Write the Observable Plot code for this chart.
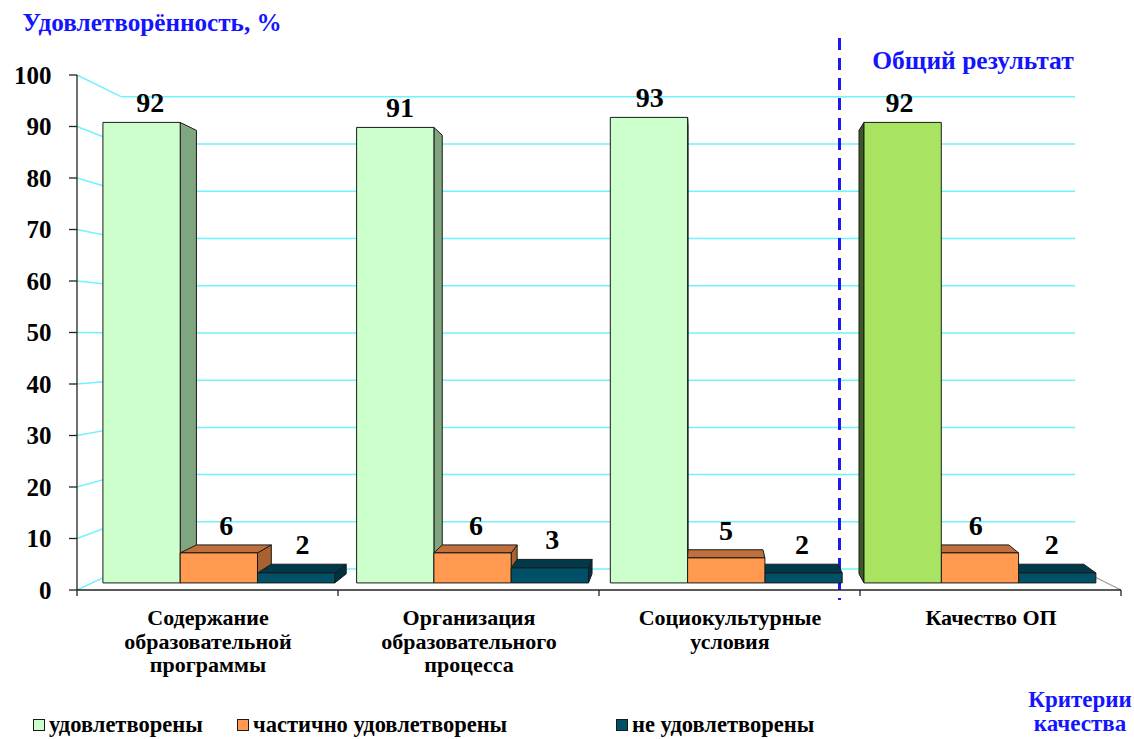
<!DOCTYPE html>
<html><head><meta charset="utf-8">
<script src="https://cdn.jsdelivr.net/npm/d3@7"></script>
<script src="https://cdn.jsdelivr.net/npm/@observablehq/plot@0.6"></script>
<style>
body{margin:0;background:#fff;font-family:"Liberation Serif","DejaVu Serif","Times New Roman",serif;}
#wrap{position:relative;width:1134px;height:739px;overflow:hidden;background:#fff}
.item{position:absolute;top:713px;font-weight:bold;font-size:22.5px;line-height:24px;white-space:nowrap;color:#000}
.sw{position:absolute;top:719px;width:10px;height:10px;border:1.5px solid #1a1a1a}
#crit{position:absolute;left:1024px;top:688px;width:112px;text-align:center;color:#1414ff;font-weight:bold;font-size:23px;line-height:24px}
</style></head><body><div id="wrap"><div id="chart"></div><div id="legend"></div><div id="crit">Критерии<br>качества</div></div>
<script>
const categories = ["Содержание образовательной программы", "Организация образовательного процесса", "Социокультурные условия", "Качество ОП"];
const categoryLines = [["Содержание", "образовательной", "программы"], ["Организация", "образовательного", "процесса"], ["Социокультурные", "условия"], ["Качество ОП"]];
const seriesNames = ["удовлетворены", "частично удовлетворены", "не удовлетворены"];
const satisfied = [92, 91, 93, 92];
const partly = [6, 6, 5, 6];
const notSatisfied = [2, 3, 2, 2];
const yTicks = [0, 10, 20, 30, 40, 50, 60, 70, 80, 90, 100];
const titleText = "Удовлетворённость, %";
const totalText = "Общий результат";

const seriesValues = [satisfied, partly, notSatisfied];
const frontColors = ["#ccffcc", "#ff9a50", "#005068"];
const topColors = ["#a6cda6", "#c0703a", "#00394a"];
const sideColors = ["#80a680", "#a8622f", "#003040"];
const totalFront = "#a8e462", totalTop = "#7fae45", totalSide = "#3c5a22";
const FONT = "'Liberation Serif','DejaVu Serif','Times New Roman',serif";

function scene(index, scales, values, dims) {
  const x = scales.x, y = scales.y;
  const bw = x.bandwidth();
  const [x0, x1] = x.range();
  const yb = y(0);
  const VX = (x0 + x1) / 2 + 14, VY = y(49);
  const KW = 0.917, KF = 0.972;
  const DVX = x0 + (x1 - x0) * 0.6, CX = 0.031, CY = 0.037;
  const wall = (px, py) => [VX + (px - VX) * KW, VY + (py - VY) * KW];
  const front = (px, py) => [VX + (px - VX) * KF, VY + (py - VY) * KF];
  const back = (p) => [p[0] + (DVX - p[0]) * CX, p[1] + (VY - p[1]) * CY];
  const g = d3.create("svg:g");
  const line = (a, b, stroke, w = 1.5) => g.append("line").attr("x1", a[0]).attr("y1", a[1]).attr("x2", b[0]).attr("y2", b[1]).attr("stroke", stroke).attr("stroke-width", w);
  const poly = (pts, fill) => g.append("path").attr("d", "M" + pts.map(p => p.join(",")).join("L") + "Z")
    .attr("fill", fill).attr("stroke", "#1a1a1a").attr("stroke-width", 1).attr("stroke-linejoin", "round");
  // walls and gridlines
  for (const v of yTicks) {
    const a = [x0, y(v)], b = wall(x0, y(v)), c = wall(x1 - 4, y(v));
    line(a, b, "#72f2ff");
    line(b, c, "#72f2ff");
  }
  line([x1, yb], wall(x1, yb), "#9a9a9a", 1.2);
  // dashed separator
  const sx = wall(x(categories[3]), yb)[0];
  g.append("line").attr("x1", sx).attr("x2", sx).attr("y1", y(100) - 37).attr("y2", yb + 10)
    .attr("stroke", "#1a1aee").attr("stroke-width", 3).attr("stroke-dasharray", "12,8");
  // bars
  const pad = bw * 0.043, barW = (bw - 2 * pad) / 3;
  const bars = [];
  categories.forEach((c, i) => {
    seriesValues.forEach((vals, j) => {
      const ax0 = x(c) + pad + j * barW, ax1 = ax0 + barW;
      const isTotal = i === 3 && j === 0;
      bars.push({
        v: vals[i], ax0, ax1,
        f: isTotal ? totalFront : frontColors[j],
        t: isTotal ? totalTop : topColors[j],
        s: isTotal ? totalSide : sideColors[j]
      });
    });
  });
  for (const b of bars) {
    const [fx0, fyb] = front(b.ax0, yb);
    const [fx1, fyt] = front(b.ax1, y(b.v));
    b.fx0 = fx0; b.fx1 = fx1; b.fyb = fyb; b.fyt = fyt;
    b.dist = Math.abs((fx0 + fx1) / 2 - DVX);
  }
  bars.sort((a, b) => b.dist - a.dist);
  for (const b of bars) {
    const {fx0, fx1, fyb, fyt} = b;
    if (fx1 < DVX) poly([[fx1, fyb], [fx1, fyt], back([fx1, fyt]), back([fx1, fyb])], b.s);
    if (fx0 > DVX) poly([[fx0, fyb], [fx0, fyt], back([fx0, fyt]), back([fx0, fyb])], b.s);
    if (fyt > VY) poly([[fx0, fyt], [fx1, fyt], back([fx1, fyt]), back([fx0, fyt])], b.t);
    poly([[fx0, fyb], [fx1, fyb], [fx1, fyt], [fx0, fyt]], b.f);
  }
  for (const b of bars) {
    const bt = back([(b.fx0 + b.fx1) / 2, b.fyt]);
    const cx = ((b.fx0 + b.fx1) / 2 + bt[0]) / 2;
    const topY = Math.min(b.fyt, bt[1]);
    g.append("text").attr("x", cx).attr("y", topY - 20).attr("dy", "0.35em")
      .attr("text-anchor", "middle").attr("font-size", 28).attr("font-weight", "bold")
      .attr("font-family", FONT).attr("fill", "#000").text(b.v);
  }
  // axes lines
  line([x0, yb], [x0, y(100)], "#222", 1.3);
  for (const v of yTicks) line([x0 - 8, y(v)], [x0, y(v)], "#222", 1.3);
  line([x0, yb], [x1, yb], "#222", 1.3);
  for (const c of categories) line([x(c), yb], [x(c), yb + 6], "#222", 1.3);
  line([x1, yb], [x1, yb + 6], "#222", 1.3);
  return g.node();
}

const chart = Plot.plot({
  width: 1134, height: 700,
  marginTop: 75, marginRight: 13, marginBottom: 110, marginLeft: 77,
  x: {type: "band", domain: categories, padding: 0, axis: null},
  y: {domain: [0, 100], axis: null},
  style: {fontFamily: FONT, fontWeight: "bold", background: "white", overflow: "visible"},
  marks: [
    scene,
    Plot.text(yTicks, {y: d => d, text: d => String(d), frameAnchor: "left", textAnchor: "end", dx: -26, fontSize: 25, fontWeight: "bold", fill: "#000"}),
    Plot.text(categories, {x: d => d, text: (d, i) => categoryLines[i].join("\n"), frameAnchor: "bottom", lineAnchor: "top", dy: 18, fontSize: 22, lineHeight: 1.07, fontWeight: "bold", fill: "#000"}),
    Plot.text([titleText], {frameAnchor: "top-left", text: d => d, textAnchor: "start", lineAnchor: "middle", dx: -55, dy: -53, fontSize: 25.2, fontWeight: "bold", fill: "#1414ff"}),
    Plot.text([totalText], {x: () => categories[3], frameAnchor: "top", text: d => d, lineAnchor: "middle", dx: -18, dy: -15, fontSize: 25.5, fontWeight: "bold", fill: "#1414ff"})
  ]
});
document.getElementById("chart").appendChild(chart);

const legend = document.getElementById("legend");
const swLeft = [33, 237, 616];
seriesNames.forEach((name, j) => {
  const sw = document.createElement("div");
  sw.className = "sw"; sw.style.left = swLeft[j] + "px"; sw.style.background = frontColors[j];
  legend.appendChild(sw);
  const t = document.createElement("div");
  t.className = "item"; t.style.left = (swLeft[j] + 16) + "px"; t.textContent = name;
  legend.appendChild(t);
});
</script></body></html>
